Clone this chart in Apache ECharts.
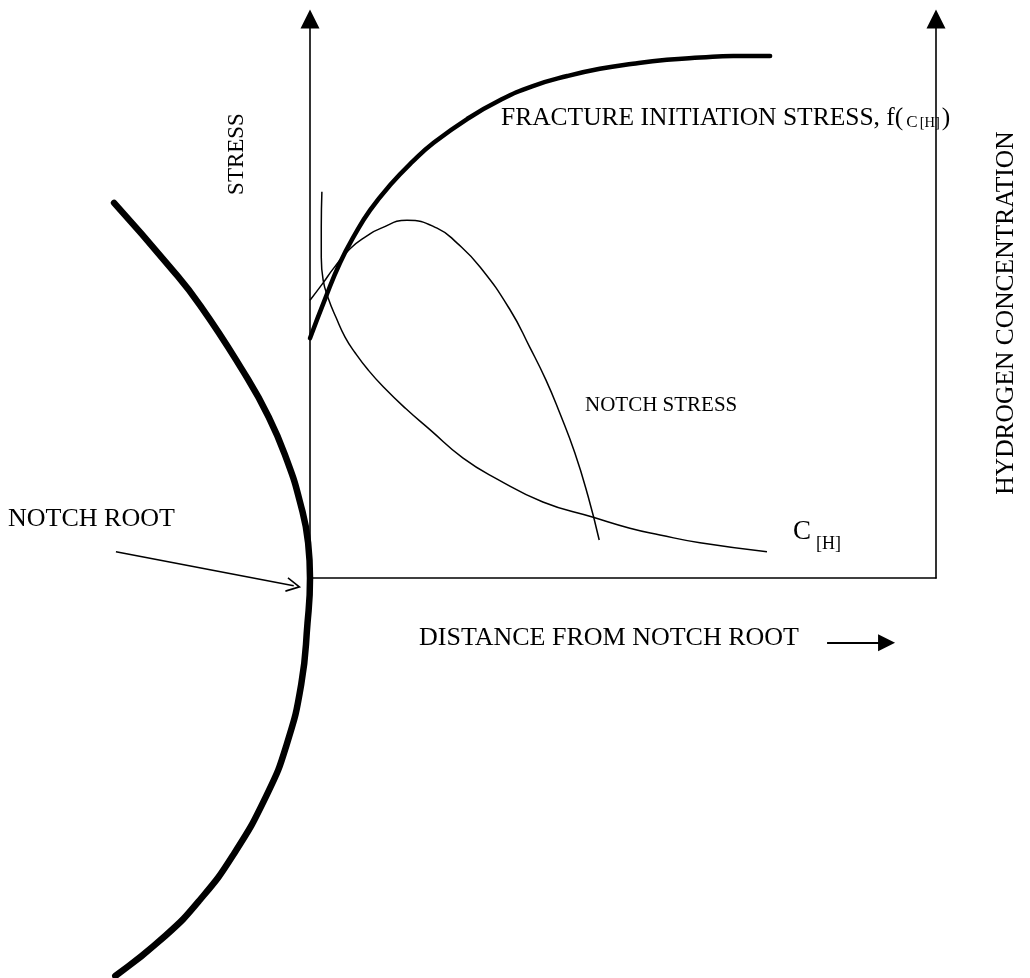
<!DOCTYPE html>
<html>
<head>
<meta charset="utf-8">
<title>Hydrogen-assisted cracking at a notch root</title>
<script src="https://cdn.jsdelivr.net/npm/echarts/dist/echarts.min.js"></script>
<style>
  html, body { margin: 0; padding: 0; background: #ffffff; }
  #chart { width: 1030px; height: 978px; }
</style>
</head>
<body>
<div id="chart"></div>
<script>
// Schematic: distance from notch root (x) vs stress (left axis) and hydrogen concentration (right axis).
// Curves are [distance, value] pairs in arbitrary units, 0..100 on each axis.

// Notch surface profile, drawn in its own (hidden) frame that shares the plot's scale
const notchProfile = [
  [-31.3, 67.1], [-22.5, 55.8], [-17.5, 48.7], [-10.7, 37.0], [-6.6, 28.8],
  [-3.6, 20.8], [-1.6, 13.6], [-0.3, 6.3], [0, 0], [-0.4, -8.1],
  [-1.4, -19.0], [-3.7, -29.7], [-6.9, -38.8], [-12.3, -49.6], [-17.6, -57.6],
  [-23.1, -64.0], [-31.1, -71.2]
];

// Fracture initiation stress, f(C[H])
const fractureStress = [
  [0, 42.9], [2.4, 49.9], [4.8, 56.4], [7.2, 61.5], [9.6, 65.8], [12.8, 70.3],
  [16.5, 74.6], [19.7, 77.8], [25.1, 82.1], [30.4, 85.5], [35.6, 88.0],
  [41.1, 89.8], [46.3, 91.1], [51.6, 92.0], [57.0, 92.7], [62.3, 93.1],
  [67.6, 93.4], [73.5, 93.4]
];

// Notch stress distribution
const notchStress = [
  [0, 49.7], [2.1, 52.8], [3.7, 55.3], [6.4, 58.9], [9.1, 61.2], [11.2, 62.5],
  [15.5, 64.0], [20.3, 62.6], [23.5, 59.9], [27.2, 55.6],
  [32.0, 47.9], [35.1, 41.3], [37.7, 35.4], [39.9, 29.5], [42.3, 22.4],
  [44.4, 14.7], [46.2, 6.8]
];

// Hydrogen concentration C[H]
const hydrogenConc = [
  [1.9, 69.1], [1.8, 62.8], [1.8, 57.4], [2.1, 53.3], [2.9, 50.1], [4.2, 46.5],
  [5.6, 43.1], [7.2, 40.3], [9.3, 37.2], [11.7, 34.2], [15.2, 30.4],
  [19.2, 26.5], [24.4, 21.5], [29.9, 17.7], [37.2, 13.6], [45.1, 10.9],
  [51.1, 8.9], [55.9, 7.7], [62.3, 6.3], [73.0, 4.7]
];

// Pointer arrows: "NOTCH ROOT" callout and distance direction
const rootPointer = [[-31.0, 4.7], [-2.6, -1.4]];
const distancePointer = [[82.6, -11.6], [92.1, -11.6]];

// Text labels
const labels = {
  stress: 'STRESS',
  hydrogen: 'HYDROGEN CONCENTRATION',
  distance: 'DISTANCE FROM NOTCH ROOT',
  notchRoot: 'NOTCH ROOT',
  notchStress: 'NOTCH STRESS',
  fracture: 'FRACTURE INITIATION STRESS, f({c|C}{sub|[H]})',
  conc: 'C',
  concSub: '[H]'
};

const SERIF = "'Liberation Serif', 'Times New Roman', serif";
const INK = '#000000';

// Plot frame geometry (pixels)
const PLOT = { left: 310, right: 94, top: 19, bottom: 400 };
const W = 1030, H = 978;
const pxPerX = (W - PLOT.left - PLOT.right) / 100;
const pxPerY = (H - PLOT.top - PLOT.bottom) / 100;
const originX = PLOT.left, originY = H - PLOT.bottom;

// Hidden frame for the notch profile: same scale, extended range (kept inside the canvas)
const NOTCH_X = [-40, 5], NOTCH_Y = [-71.5, 71.5];

const chart = echarts.init(document.getElementById('chart'), null, { renderer: 'canvas' });

const axisLineStyle = { color: INK, width: 1.6 };
const hiddenAxis = { show: false };

chart.setOption({
  animation: false,
  backgroundColor: '#ffffff',
  grid: [
    { left: PLOT.left, right: PLOT.right, top: PLOT.top, bottom: PLOT.bottom, containLabel: false },
    {
      left: originX + NOTCH_X[0] * pxPerX,
      width: (NOTCH_X[1] - NOTCH_X[0]) * pxPerX,
      top: originY - NOTCH_Y[1] * pxPerY,
      height: (NOTCH_Y[1] - NOTCH_Y[0]) * pxPerY,
      containLabel: false
    }
  ],
  xAxis: [
    {
      type: 'value', min: 0, max: 100, gridIndex: 0,
      axisLine: { show: true, onZero: false, lineStyle: axisLineStyle },
      axisTick: { show: false }, axisLabel: { show: false }, splitLine: { show: false }
    },
    { type: 'value', min: NOTCH_X[0], max: NOTCH_X[1], gridIndex: 1, ...hiddenAxis }
  ],
  yAxis: [
    {
      type: 'value', min: 0, max: 100, position: 'left', gridIndex: 0,
      axisLine: { show: true, onZero: false, symbol: ['none', 'triangle'], symbolSize: [19, 19], lineStyle: axisLineStyle },
      axisTick: { show: false }, axisLabel: { show: false }, splitLine: { show: false }
    },
    {
      type: 'value', min: 0, max: 100, position: 'right', gridIndex: 0,
      axisLine: { show: true, onZero: false, symbol: ['none', 'triangle'], symbolSize: [19, 19], lineStyle: axisLineStyle },
      axisTick: { show: false }, axisLabel: { show: false }, splitLine: { show: false }
    },
    { type: 'value', min: NOTCH_Y[0], max: NOTCH_Y[1], gridIndex: 1, ...hiddenAxis }
  ],
  series: [
    {
      name: 'Notch profile', type: 'line', xAxisIndex: 1, yAxisIndex: 2,
      data: notchProfile, smooth: true, symbol: 'none', clip: false, silent: true,
      lineStyle: { color: INK, width: 6.5, cap: 'round' }
    },
    {
      name: 'Fracture initiation stress', type: 'line', data: fractureStress, smooth: true,
      symbol: 'none', clip: false, silent: true,
      lineStyle: { color: INK, width: 4.5, cap: 'round' }
    },
    {
      name: 'Notch stress', type: 'line', data: notchStress, smooth: true,
      symbol: 'none', clip: false, silent: true,
      lineStyle: { color: INK, width: 1.5 }
    },
    {
      name: 'Hydrogen concentration', type: 'line', yAxisIndex: 1, data: hydrogenConc, smooth: true,
      symbol: 'none', clip: false, silent: true,
      lineStyle: { color: INK, width: 1.5 }
    },
    {
      name: 'Notch root pointer', type: 'lines', coordinateSystem: 'cartesian2d',
      clip: false, silent: true,
      symbol: ['none', 'path://M6,0 L12,13 L10.8,13.6 L6,3.2 L1.2,13.6 L0,13 Z'],
      symbolSize: 15,
      lineStyle: { color: INK, width: 1.5, opacity: 1, curveness: 0 },
      data: [{ coords: rootPointer }]
    },
    {
      name: 'Distance pointer', type: 'lines', coordinateSystem: 'cartesian2d',
      clip: false, silent: true,
      symbol: ['none', 'triangle'], symbolSize: 17,
      lineStyle: { color: INK, width: 1.8, opacity: 1, curveness: 0 },
      data: [{ coords: distancePointer }]
    }
  ],
  graphic: [
    { type: 'text', x: 237, y: 154, rotation: Math.PI / 2, silent: true,
      style: { text: labels.stress, font: '23px ' + SERIF, fill: INK, align: 'center', verticalAlign: 'middle' } },
    { type: 'text', x: 1006, y: 313, rotation: Math.PI / 2, silent: true,
      style: { text: labels.hydrogen, font: '25.5px ' + SERIF, fill: INK, align: 'center', verticalAlign: 'middle' } },
    { type: 'text', x: 419, y: 638, silent: true,
      style: { text: labels.distance, font: '26px ' + SERIF, fill: INK, align: 'left', verticalAlign: 'middle' } },
    { type: 'text', x: 8, y: 519, silent: true,
      style: { text: labels.notchRoot, font: '26px ' + SERIF, fill: INK, align: 'left', verticalAlign: 'middle' } },
    { type: 'text', x: 585, y: 405, silent: true,
      style: { text: labels.notchStress, font: '21px ' + SERIF, fill: INK, align: 'left', verticalAlign: 'middle' } },
    { type: 'text', x: 501, y: 118, silent: true,
      style: {
        text: labels.fracture, font: '25.5px ' + SERIF, fill: INK, align: 'left', verticalAlign: 'middle',
        rich: {
          c: { fontSize: 17, fontFamily: SERIF, fill: INK, verticalAlign: 'bottom', lineHeight: 17, padding: [0, 2, 0, 3] },
          sub: { fontSize: 14.5, fontFamily: SERIF, fill: INK, verticalAlign: 'bottom', lineHeight: 11, padding: [0, 2, 0, 0] }
        }
      } },
    { type: 'text', x: 793, y: 532, silent: true,
      style: { text: labels.conc, font: '27px ' + SERIF, fill: INK, align: 'left', verticalAlign: 'middle' } },
    { type: 'text', x: 816, y: 544, silent: true,
      style: { text: labels.concSub, font: '18px ' + SERIF, fill: INK, align: 'left', verticalAlign: 'middle' } }
  ]
});
</script>
</body>
</html>
